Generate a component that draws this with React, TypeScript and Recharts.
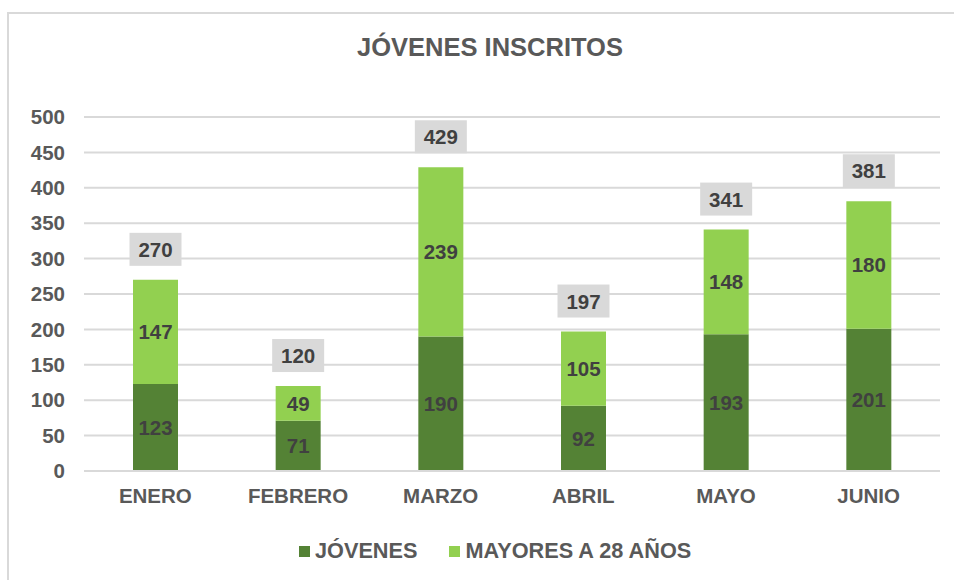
import React from "react";
import { Bar, BarChart, CartesianGrid, LabelList, XAxis, YAxis } from "recharts";

const MONTHS = ["ENERO", "FEBRERO", "MARZO", "ABRIL", "MAYO", "JUNIO"];
const JOVENES = [123, 71, 190, 92, 193, 201];
const MAYORES = [147, 49, 239, 105, 148, 180];
const TOTALS = [270, 120, 429, 197, 341, 381];
const Y_TICKS = [0, 50, 100, 150, 200, 250, 300, 350, 400, 450, 500];

const DARK = "#548235";
const LIGHT = "#92D050";
const AXIS_TEXT = "#595959";
const LABEL_TEXT = "#404040";
const GRID = "#D9D9D9";
const FONT = "'Liberation Sans', Arial, sans-serif";

const data = MONTHS.map((month, i) => ({
  month,
  jovenes: JOVENES[i],
  mayores: MAYORES[i],
  total: TOTALS[i],
}));

function TotalLabel(props: any) {
  const { x, y, width, value } = props;
  const cx = x + width / 2;
  const boxW = 52;
  const boxH = 33;
  const bottom = y - 14;
  return (
    <g>
      <rect x={cx - boxW / 2} y={bottom - boxH} width={boxW} height={boxH} fill="#D9D9D9" />
      <text
        x={cx}
        y={bottom - boxH / 2}
        textAnchor="middle"
        dominantBaseline="central"
        fill={LABEL_TEXT}
        fontSize={20.5}
        fontWeight="bold"
        fontFamily={FONT}
      >
        {value}
      </text>
    </g>
  );
}

function ChartLegend() {
  const items = [
    { label: "JÓVENES", color: DARK },
    { label: "MAYORES A 28 AÑOS", color: LIGHT },
  ];
  return (
    <div
      style={{
        position: "absolute",
        left: 299,
        top: 538,
        display: "flex",
        alignItems: "center",
        gap: 32,
        fontFamily: FONT,
        fontWeight: "bold",
        fontSize: 21.7,
        color: AXIS_TEXT,
        lineHeight: "26px",
        whiteSpace: "nowrap",
      }}
    >
      {items.map((it) => (
        <div key={it.label} style={{ display: "flex", alignItems: "center" }}>
          <span style={{ width: 11, height: 11, background: it.color, marginRight: 5, display: "inline-block" }} />
          <span>{it.label}</span>
        </div>
      ))}
    </div>
  );
}

export default function App() {
  const labelStyle = { fill: LABEL_TEXT, fontSize: 20.5, fontWeight: "bold", fontFamily: FONT };
  const tickStyle = { fill: AXIS_TEXT, fontSize: 20.5, fontWeight: "bold", fontFamily: FONT };
  return (
    <div
      style={{
        position: "absolute",
        left: 0,
        top: 0,
        width: 954,
        height: 580,
        overflow: "hidden",
        background: "#fff",
      }}
    >
      <div
        style={{
          position: "absolute",
          left: 7,
          top: 12,
          width: 980,
          height: 620,
          border: "2px solid #D9D9D9",
          boxSizing: "border-box",
        }}
      />
      <div
        style={{
          position: "absolute",
          left: 13,
          top: 32,
          width: 954,
          textAlign: "center",
          fontFamily: FONT,
          fontWeight: "bold",
          fontSize: 25.5,
          color: AXIS_TEXT,
          lineHeight: "30px",
        }}
      >
        JÓVENES INSCRITOS
      </div>
      <div style={{ position: "absolute", left: 0, top: 0 }}>
        <BarChart
          width={954}
          height={580}
          data={data}
          margin={{ top: 117, right: 14, bottom: 69, left: 0 }}
        >
          <CartesianGrid vertical={false} stroke={GRID} strokeWidth={2} />
          <XAxis
            dataKey="month"
            axisLine={{ stroke: GRID, strokeWidth: 2 }}
            tickLine={false}
            tickSize={0}
            tickMargin={17}
            height={40}
            interval={0}
            tick={tickStyle}
          />
          <YAxis
            domain={[0, 500]}
            ticks={Y_TICKS}
            axisLine={false}
            tickLine={false}
            tickSize={0}
            tickMargin={19}
            width={84}
            interval={0}
            tick={tickStyle}
          />
          <Bar dataKey="jovenes" name="JÓVENES" stackId="a" fill={DARK} barSize={45} isAnimationActive={false}>
            <LabelList dataKey="jovenes" position="center" style={labelStyle} />
          </Bar>
          <Bar dataKey="mayores" name="MAYORES A 28 AÑOS" stackId="a" fill={LIGHT} barSize={45} isAnimationActive={false}>
            <LabelList dataKey="mayores" position="center" style={labelStyle} />
            <LabelList dataKey="total" content={<TotalLabel />} />
          </Bar>
        </BarChart>
      </div>
      <ChartLegend />
    </div>
  );
}
